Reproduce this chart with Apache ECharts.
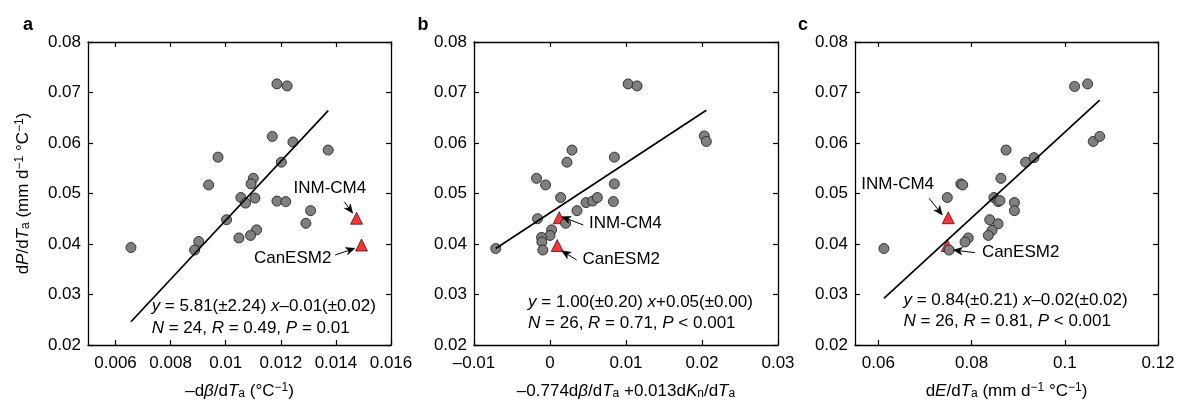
<!DOCTYPE html>
<html><head><meta charset="utf-8">
<script src="https://cdn.jsdelivr.net/npm/echarts@6/dist/echarts.min.js"></script>
<style>html,body{margin:0;padding:0;background:#fff}#c{width:1177px;height:406px}</style>
</head><body><div id="c"></div>
<script>
// ---------- tick labels ----------
const yTicks = [0.02, 0.03, 0.04, 0.05, 0.06, 0.07, 0.08];
const xTicksA = [0.006, 0.008, 0.010, 0.012, 0.014, 0.016];
const xTicksB = [-0.01, 0, 0.01, 0.02, 0.03];
const xTicksC = [0.06, 0.08, 0.10, 0.12];
const modelNames = ['INM-CM4', 'CanESM2'];

// ---------- panel a ----------
const aX = [0.01186,0.01223,0.01169,0.01244,0.01372,0.01202,0.00972,0.00938,0.01100,0.01092,0.01055,0.01072,0.01106,0.01186,0.01218,0.01308,0.01291,0.01003,0.01112,0.01090,0.01048,0.00902,0.00887,0.00656];
const aY = [0.0717,0.0713,0.0613,0.0602,0.0586,0.0562,0.0572,0.0517,0.0530,0.0519,0.0492,0.0481,0.0491,0.0485,0.0484,0.0466,0.0441,0.0448,0.0428,0.0417,0.0412,0.0405,0.0388,0.0393];
const aModelX = [0.01475, 0.01493];
const aModelY = [0.0451, 0.0398];
const aFitX = [0.00656, 0.01372];
const aFitY = [0.0246, 0.0664];

// ---------- panel b ----------
const bX = [0.01028,0.01146,0.02030,0.02057,0.00289,0.00223,0.00847,-0.00177,-0.00058,0.00847,0.00140,0.00474,0.00562,0.00623,0.00834,0.00355,-0.00164,0.00206,0.00021,0.00000,-0.00111,-0.00107,-0.00094,-0.00714];
const bY = [0.0717,0.0713,0.0614,0.0603,0.0586,0.0562,0.0572,0.0530,0.0517,0.0519,0.0492,0.0482,0.0485,0.0492,0.0484,0.0466,0.0450,0.0441,0.0428,0.0417,0.0413,0.0404,0.0388,0.0391];
const bModelX = [0.00121, 0.00095];
const bModelY = [0.0452, 0.0397];
const bFitX = [-0.00714, 0.02057];
const bFitY = [0.0391, 0.0665];

// ---------- panel c ----------
const cX = [0.1021,0.1049,0.1061,0.1075,0.0874,0.0916,0.0934,0.0863,0.0777,0.0781,0.0748,0.0848,0.0857,0.0861,0.0892,0.0892,0.0839,0.0857,0.0844,0.0836,0.0793,0.0786,0.0752,0.0612];
const cY = [0.0712,0.0717,0.0603,0.0613,0.0586,0.0562,0.0571,0.0530,0.0519,0.0517,0.0492,0.0492,0.0484,0.0486,0.0482,0.0466,0.0448,0.0440,0.0427,0.0417,0.0412,0.0404,0.0388,0.0391];
const cModelX = [0.0750, 0.0748];
const cModelY = [0.0452, 0.0397];
const cFitX = [0.0612, 0.1075];
const cFitY = [0.02925, 0.0685];

// ---------- annotation anchors (data coords) ----------
const aLabelAt = [[0.01378, 0.0511], [0.01243, 0.03717]];
const aArrowFrom = [[0.0143, 0.04838], [0.01397, 0.03782]];
const aArrowTo = [[0.01461, 0.04608], [0.01469, 0.03915]];
const bLabelAt = [[0.00992, 0.0440], [0.00938, 0.0370]];
const bArrowFrom = [[0.00438, 0.04376], [0.00351, 0.03683]];
const bArrowTo = [[0.00153, 0.04541], [0.00153, 0.03867]];
const cLabelAt = [[0.06416, 0.05188], [0.09053, 0.03828]];
const cArrowFrom = [[0.0709, 0.04905], [0.08073, 0.03828]];
const cArrowTo = [[0.07374, 0.04574], [0.07609, 0.03881]];

const eqLine1 = ['{i|y} = 5.81(±2.24) {i|x}–0.01(±0.02)', '{i|y} = 1.00(±0.20) {i|x}+0.05(±0.00)', '{i|y} = 0.84(±0.21) {i|x}–0.02(±0.02)'];
const eqLine2 = ['{i|N} = 24, {i|R} = 0.49, {i|P} = 0.01', '{i|N} = 26, {i|R} = 0.71, {i|P} < 0.001', '{i|N} = 26, {i|R} = 0.81, {i|P} < 0.001'];
const eqAt = [[0.00731, 0.0277, 0.0234], [-0.00288, 0.0285, 0.0243], [0.0654, 0.0288, 0.0247]];
const panelLetters = ['a', 'b', 'c'];
const xNames = [
  '–d{i|β}/d{i|T}{sub|a} (°C{sup|−1})',
  '–0.774d{i|β}/d{i|T}{sub|a} +0.013d{i|K}{sub|n}/d{i|T}{sub|a}',
  'd{i|E}/d{i|T}{sub|a} (mm d{sup|−1} °C{sup|−1})'
];
const yName = 'd{i|P}/d{i|T}{sub|a} (mm d{sup|−1} °C{sup|−1})';

const FONT = 'Liberation Sans, Arial, Helvetica, sans-serif';
const FS = 17;
const rich = {
  i: {fontStyle: 'italic', fontSize: FS, fontFamily: FONT, color: '#000', lineHeight: 18},
  sub: {fontSize: 12, fontFamily: FONT, color: '#000', verticalAlign: 'bottom', lineHeight: 8},
  sup: {fontSize: 12, fontFamily: FONT, color: '#000', verticalAlign: 'top', lineHeight: 8}
};

const grids = [
  {left: 88, top: 42, width: 303, height: 303},
  {left: 474, top: 42, width: 304, height: 303},
  {left: 855, top: 42, width: 303, height: 303}
].map(g => Object.assign(g, {outerBoundsMode: 'none', containLabel: false}));

const xRanges = [[0.005, 0.016], [-0.01, 0.03], [0.055, 0.12]];
const xTickSets = [xTicksA, xTicksB, xTicksC];
const xFmt = [v => String(+v.toFixed(3)), v => (v < 0 ? '–' + String(+(-v).toFixed(2)) : String(+v.toFixed(2))), v => String(+v.toFixed(2))];

const lineStyleAxis = {color: '#000', width: 1.3};
const xAxes = [], yAxes = [], series = [];
const datasets = [
  [aX, aY, aModelX, aModelY, aFitX, aFitY],
  [bX, bY, bModelX, bModelY, bFitX, bFitY],
  [cX, cY, cModelX, cModelY, cFitX, cFitY]
];

for (let i = 0; i < 3; i++) {
  const base = {
    gridIndex: i, type: 'value', min: xRanges[i][0], max: xRanges[i][1],
    axisLine: {show: true, onZero: false, lineStyle: lineStyleAxis},
    axisTick: {show: true, inside: true, length: 5, lineStyle: {color: '#000', width: 1.2}, customValues: xTickSets[i]},
    splitLine: {show: false}
  };
  xAxes.push(Object.assign({}, base, {
    position: 'bottom',
    axisLabel: {show: true, color: '#000', fontSize: FS, fontFamily: FONT, margin: 10, customValues: xTickSets[i], formatter: xFmt[i]},
    name: xNames[i], nameLocation: 'middle', nameGap: 37,
    nameTextStyle: {color: '#000', fontSize: FS, fontFamily: FONT, lineHeight: 18, rich: rich}
  }));
  xAxes.push(Object.assign({}, base, {position: 'top', axisLabel: {show: false}}));
  const ybase = {
    gridIndex: i, type: 'value', min: 0.02, max: 0.08, interval: 0.01,
    axisLine: {show: true, onZero: false, lineStyle: lineStyleAxis},
    axisTick: {show: true, inside: true, length: 5, lineStyle: {color: '#000', width: 1.2}, customValues: yTicks},
    splitLine: {show: false}
  };
  yAxes.push(Object.assign({}, ybase, {
    position: 'left',
    axisLabel: {show: true, color: '#000', fontSize: FS, fontFamily: FONT, margin: 7, customValues: yTicks, formatter: v => v.toFixed(2)},
    name: i === 0 ? yName : '', nameLocation: 'middle', nameGap: 56,
    nameTextStyle: {color: '#000', fontSize: FS, fontFamily: FONT, lineHeight: 18, rich: rich}
  }));
  yAxes.push(Object.assign({}, ybase, {position: 'right', axisLabel: {show: false}}));

  const [px, py, mx, my, fx, fy] = datasets[i];
  series.push({
    type: 'scatter', xAxisIndex: 2 * i, yAxisIndex: 2 * i, z: 2,
    symbol: 'triangle', symbolSize: 12,
    itemStyle: {color: '#ff0000', borderColor: '#000', borderWidth: 0.8},
    data: mx.map((x, k) => ({name: modelNames[k], value: [x, my[k]]}))
  });
  series.push({
    type: 'scatter', xAxisIndex: 2 * i, yAxisIndex: 2 * i, z: 3,
    symbol: 'circle', symbolSize: 10,
    itemStyle: {color: '#7f7f7f', borderColor: '#262626', borderWidth: 0.9, opacity: 1},
    data: px.map((x, k) => [x, py[k]])
  });
  series.push({
    type: 'line', xAxisIndex: 2 * i, yAxisIndex: 2 * i, z: 4,
    showSymbol: false, symbol: 'none', silent: true,
    lineStyle: {color: '#000', width: 1.7},
    data: fx.map((x, k) => [x, fy[k]])
  });
}

const chart = echarts.init(document.getElementById('c'), null, {renderer: 'canvas'});
chart.setOption({
  animation: false,
  backgroundColor: '#fff',
  grid: grids, xAxis: xAxes, yAxis: yAxes, series: series
});

// annotations placed through the axes
const labelSets = [aLabelAt, bLabelAt, cLabelAt];
const arrowFromSets = [aArrowFrom, bArrowFrom, cArrowFrom];
const arrowToSets = [aArrowTo, bArrowTo, cArrowTo];
const graphics = [];
const toPx = (i, p) => chart.convertToPixel({xAxisIndex: 2 * i, yAxisIndex: 2 * i}, p);
const letterPos = [[28, 25], [423, 25], [803, 25]];
for (let i = 0; i < 3; i++) {
  labelSets[i].forEach((p, k) => {
    const q = toPx(i, p);
    graphics.push({type: 'text', x: q[0], y: q[1], z: 10, silent: true,
      style: {text: modelNames[k], fill: '#000', font: FS + 'px ' + FONT, align: 'center', verticalAlign: 'middle'}});
    // arrow
    const f = toPx(i, arrowFromSets[i][k]), t = toPx(i, arrowToSets[i][k]);
    const dx = t[0] - f[0], dy = t[1] - f[1], len = Math.hypot(dx, dy);
    const ux = dx / len, uy = dy / len, nx = -uy, ny = ux;
    const L = 9, W = 3.8, notch = 6.5;
    const bx = t[0] - ux * L, by = t[1] - uy * L;
    const mxp = t[0] - ux * notch, myp = t[1] - uy * notch;
    graphics.push({type: 'line', z: 10, silent: true,
      shape: {x1: f[0], y1: f[1], x2: mxp, y2: myp},
      style: {stroke: '#000', lineWidth: 1}});
    graphics.push({type: 'polygon', z: 10, silent: true,
      shape: {points: [[t[0], t[1]], [bx + nx * W, by + ny * W], [mxp, myp], [bx - nx * W, by - ny * W]]},
      style: {fill: '#000', stroke: '#000', lineWidth: 0.5}});
  });
  const e = eqAt[i];
  const q1 = toPx(i, [e[0], e[1]]), q2 = toPx(i, [e[0], e[2]]);
  [[eqLine1[i], q1], [eqLine2[i], q2]].forEach(([t, q]) => {
    graphics.push({type: 'text', x: q[0], y: q[1], z: 10, silent: true,
      style: {text: t, fill: '#000', fontSize: FS, fontFamily: FONT, align: 'left', verticalAlign: 'middle',
        rich: {i: {fontStyle: 'italic', fontSize: FS, fontFamily: FONT, fill: '#000', color: '#000'}}}});
  });
  graphics.push({type: 'text', x: letterPos[i][0], y: letterPos[i][1], z: 10, silent: true,
    style: {text: panelLetters[i], fill: '#000', font: 'bold 18px ' + FONT, align: 'center', verticalAlign: 'middle'}});
}
chart.setOption({graphic: graphics});
</script>
</body></html>
